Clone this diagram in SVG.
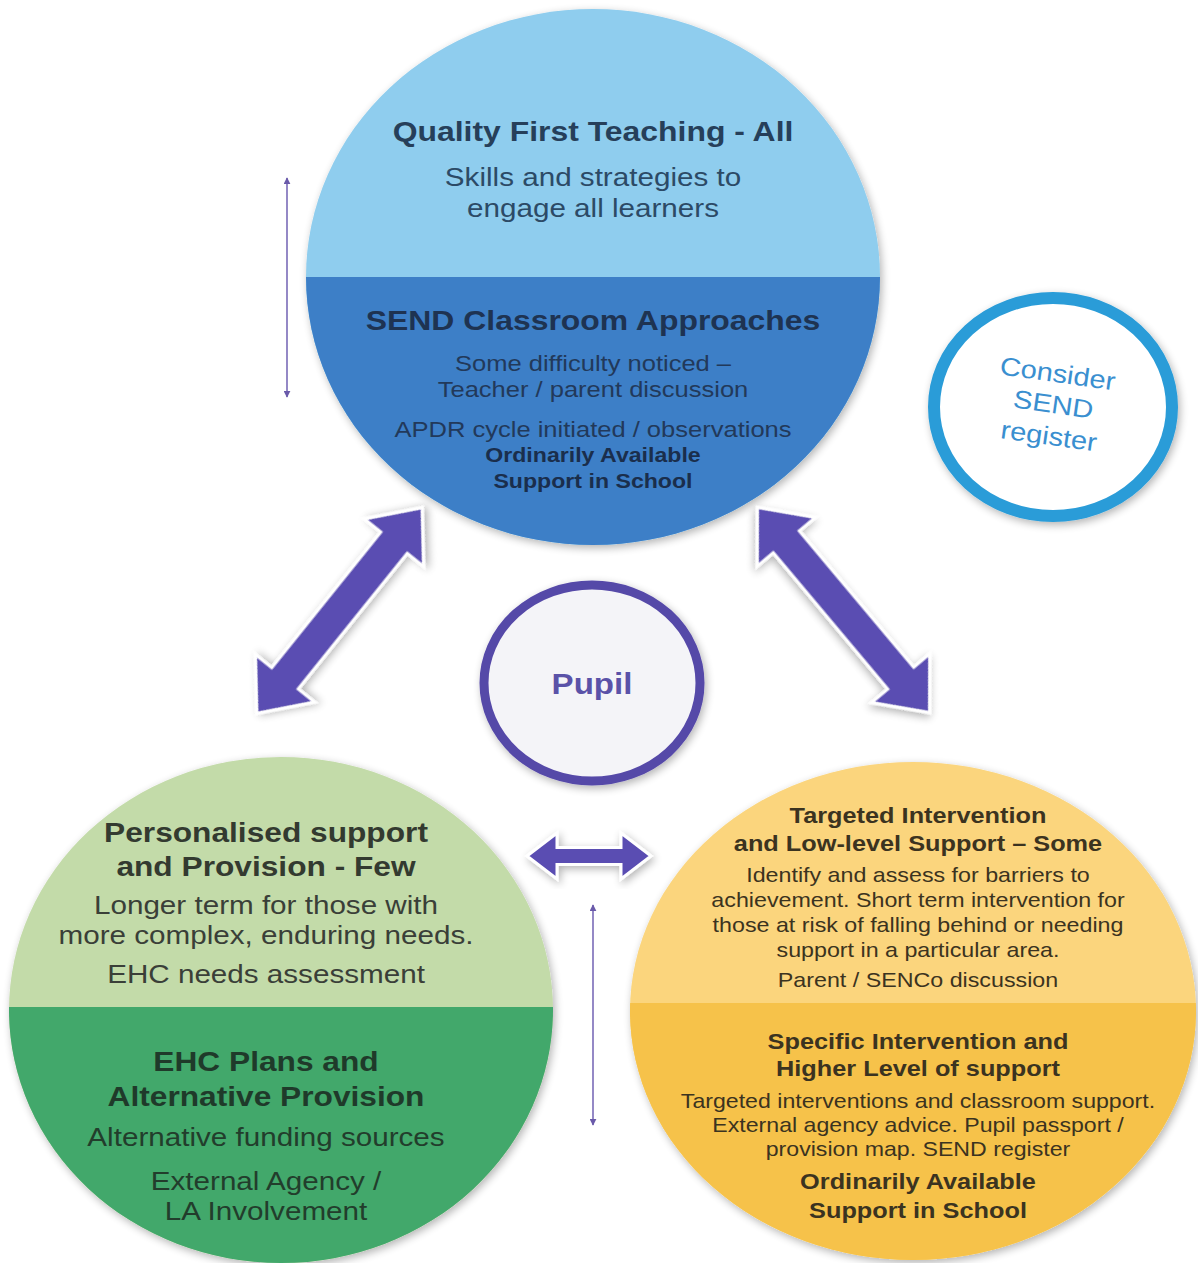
<svg xmlns="http://www.w3.org/2000/svg" width="1198" height="1263" viewBox="0 0 1198 1263">
<defs>
  <style>
    text { font-family: "Liberation Sans", Arial, sans-serif; text-anchor: middle; }
    .b { font-weight: bold; }
    .bigarrow { fill: #5a4db2; stroke: #ffffff; stroke-width: 3; stroke-linejoin: miter; }
    .thin { stroke: #7a6bb8; stroke-width: 1.6; fill: none; marker-start: url(#tri); marker-end: url(#tri); }
  </style>
  <marker id="tri" viewBox="0 0 10 10" refX="9" refY="5" markerWidth="7" markerHeight="7" markerUnits="userSpaceOnUse" orient="auto-start-reverse">
    <path d="M0,0 L10,5 L0,10 Z" fill="#6a5aaa"/>
  </marker>
  <filter id="sh" x="-20%" y="-20%" width="140%" height="140%">
    <feGaussianBlur in="SourceAlpha" stdDeviation="4"/>
    <feOffset dx="2" dy="3"/>
    <feComponentTransfer><feFuncA type="linear" slope="0.3"/></feComponentTransfer>
    <feMerge><feMergeNode/><feMergeNode in="SourceGraphic"/></feMerge>
  </filter>
  <clipPath id="clipTop"><rect x="0" y="277" width="1198" height="400"/></clipPath>
  <clipPath id="clipLeft"><rect x="0" y="1007" width="700" height="300"/></clipPath>
  <clipPath id="clipRight"><rect x="500" y="1003" width="698" height="300"/></clipPath>
</defs>
<rect width="1198" height="1263" fill="#ffffff"/>

<g id="node-top">
  <ellipse cx="593" cy="277" rx="287" ry="268" fill="#8fcdee" filter="url(#sh)"/>
  <ellipse cx="593" cy="277" rx="287" ry="268" fill="#3d7fc7" clip-path="url(#clipTop)"/>
  <g transform="translate(593 0) scale(1.14 1)">
    <text class="b" x="0" y="141" font-size="28" fill="#263f5a">Quality First Teaching - All</text>
    <text x="0" y="186" font-size="26" fill="#2c4a66">Skills and strategies to</text>
    <text x="0" y="217" font-size="26" fill="#2c4a66">engage all learners</text>
    <text class="b" x="0" y="330" font-size="28" fill="#1e3352">SEND Classroom Approaches</text>
    <text x="0" y="371" font-size="22.4" fill="#22395a">Some difficulty noticed –</text>
    <text x="0" y="397" font-size="22.4" fill="#22395a">Teacher / parent discussion</text>
    <text x="0" y="437" font-size="22.4" fill="#22395a">APDR cycle initiated / observations</text>
    <text class="b" x="0" y="462" font-size="20.3" fill="#1a2e4c">Ordinarily Available</text>
    <text class="b" x="0" y="488" font-size="20.3" fill="#1a2e4c">Support in School</text>
  </g>
</g>

<g id="node-register">
  <ellipse cx="1053" cy="407" rx="119" ry="109" fill="#ffffff" stroke="#2a9cd8" stroke-width="12" filter="url(#sh)"/>
  <g transform="translate(1053 407) rotate(8) scale(1.14 1)" fill="#3a8fd0">
    <text x="0" y="-25" font-size="25.5">Consider</text>
    <text x="0" y="6" font-size="25.5">SEND</text>
    <text x="0" y="38" font-size="25.5">register</text>
  </g>
</g>

<g id="node-pupil">
  <ellipse cx="592" cy="683" rx="108" ry="98" fill="#f4f4f8" stroke="#5548a8" stroke-width="9" filter="url(#sh)"/>
  <g transform="translate(592 0) scale(1.14 1)">
    <text class="b" x="0" y="694" font-size="29" fill="#5a52a8">Pupil</text>
  </g>
</g>

<g id="node-left">
  <ellipse cx="281" cy="1010" rx="272" ry="253" fill="#c3dba9" filter="url(#sh)"/>
  <ellipse cx="281" cy="1010" rx="272" ry="253" fill="#42a86b" clip-path="url(#clipLeft)"/>
  <g transform="translate(266 0) scale(1.14 1)">
    <text class="b" x="0" y="842" font-size="27.8" fill="#333a30">Personalised support</text>
    <text class="b" x="0" y="876" font-size="27.8" fill="#333a30">and Provision - Few</text>
    <text x="0" y="914" font-size="26" fill="#3a3f38">Longer term for those with</text>
    <text x="0" y="944" font-size="26" fill="#3a3f38">more complex, enduring needs.</text>
    <text x="0" y="983" font-size="26" fill="#3a3f38">EHC needs assessment</text>
    <text class="b" x="0" y="1071" font-size="27.8" fill="#1f3a2a">EHC Plans and</text>
    <text class="b" x="0" y="1106" font-size="27.8" fill="#1f3a2a">Alternative Provision</text>
    <text x="0" y="1146" font-size="26" fill="#223d2c">Alternative funding sources</text>
    <text x="0" y="1190" font-size="26" fill="#223d2c">External Agency /</text>
    <text x="0" y="1220" font-size="26" fill="#223d2c">LA Involvement</text>
  </g>
</g>

<g id="node-right">
  <ellipse cx="913" cy="1011" rx="283" ry="249" fill="#fbd57d" filter="url(#sh)"/>
  <ellipse cx="913" cy="1011" rx="283" ry="249" fill="#f6c24a" clip-path="url(#clipRight)"/>
  <g transform="translate(918 0) scale(1.14 1)" fill="#3b3320">
    <text class="b" x="0" y="823" font-size="22.2">Targeted Intervention</text>
    <text class="b" x="0" y="851" font-size="22.2">and Low-level Support – Some</text>
    <text x="0" y="882" font-size="20.4">Identify and assess for barriers to</text>
    <text x="0" y="907" font-size="20.4">achievement. Short term intervention for</text>
    <text x="0" y="932" font-size="20.4">those at risk of falling behind or needing</text>
    <text x="0" y="957" font-size="20.4">support in a particular area.</text>
    <text x="0" y="987" font-size="20.4">Parent / SENCo discussion</text>
    <text class="b" x="0" y="1049" font-size="22.2">Specific Intervention and</text>
    <text class="b" x="0" y="1076" font-size="22.2">Higher Level of support</text>
    <text x="0" y="1108" font-size="20.3">Targeted interventions and classroom support.</text>
    <text x="0" y="1132" font-size="20.3">External agency advice. Pupil passport /</text>
    <text x="0" y="1156" font-size="20.3">provision map. SEND register</text>
    <text class="b" x="0" y="1189" font-size="22.2">Ordinarily Available</text>
    <text class="b" x="0" y="1218" font-size="22.2">Support in School</text>
  </g>
</g>

<g id="connectors">
  <path class="bigarrow" filter="url(#sh)" transform="translate(339.5 610.5) rotate(-51.2)" d="M132,0 L87,-38 L87,-17 L-87,-17 L-87,-38 L-132,0 L-87,38 L-87,17 L87,17 L87,38 Z"/>
  <path class="bigarrow" filter="url(#sh)" transform="translate(843.5 610) rotate(50)" d="M134,0 L89,-38 L89,-17 L-89,-17 L-89,-38 L-134,0 L-89,38 L-89,17 L89,17 L89,38 Z"/>
  <path class="bigarrow" filter="url(#sh)" transform="translate(589 856)" d="M62,0 L32,-23 L32,-8.5 L-32,-8.5 L-32,-23 L-62,0 L-32,23 L-32,8.5 L32,8.5 L32,23 Z"/>
  <line class="thin" x1="287" y1="178" x2="287" y2="397"/>
  <line class="thin" x1="593" y1="905" x2="593" y2="1125"/>
</g>
</svg>
